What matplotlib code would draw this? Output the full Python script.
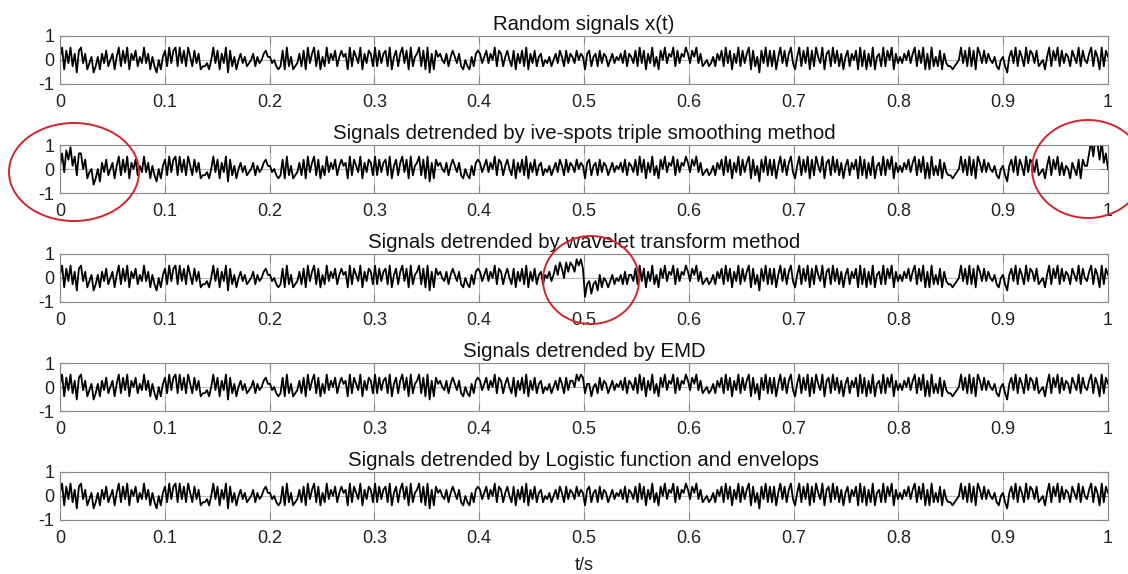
import numpy as np
import matplotlib
matplotlib.use("Agg")
import matplotlib.pyplot as plt
from matplotlib.patches import Ellipse

plt.rcParams['font.family'] = ['Liberation Sans', 'DejaVu Sans']

# Random signal x(t), sampled values in units of 0.13, one row per 0.1 s
x_units = [
    1, 4, -3, 3, -1, 4, -2, 2, -4, 3, 4, -1, 2, -3, -1, 1, -4, -2, 1, -3, 2, -1, 3, -2, 0, 2, -3, 1, 4, -2, 3, -1, 4, -3, 2, 0, 3, -2, 1, -1, 4, -1, 2, -3, 1, -2, -4, 0, -3, 1,
    3, -2, 4, -1, 3, 4, -2, 4, -1, 3, -2, 4, 1, -2, 3, -1, 2, -3, -2, -2, -1, -3, 0, 4, -1, 3, -3, 2, -1, 4, -4, 3, -2, 1, -3, 0, 2, -1, 1, -2, -1, 0, 2, -2, 1, -1, 0, 2, 3, 1,
    1, -1, 0, -2, -3, -2, 3, -3, 4, -2, 1, -3, -2, -1, 2, -2, 3, -3, 4, -1, 2, 4, -2, 3, -3, 1, -2, 4, -1, 2, 0, 3, -2, 1, 3, 1, 2, -3, 4, -2, 3, 1, -1, 4, -3, 2, -1, 3, 2, -2,
    4, -2, 3, -1, 2, 3, -2, 4, -3, 1, 3, -2, 2, 4, -1, 3, -3, 4, -2, 1, 2, 4, -2, 3, -3, 4, -4, 2, -3, 3, 1, 2, 0, -1, 2, -2, 1, 3, 1, -1, 2, -2, -3, 0, -2, -3, 1, -2, 2, 3,
    2, -1, 1, 3, -1, 2, 0, 4, -2, 3, 2, -2, 1, 3, 0, -2, 3, -3, 2, -1, 3, -2, 4, -3, 2, -1, 3, -2, 1, 2, -2, 0, -1, 1, -2, 0, 2, -1, 3, 1, -2, 3, -1, 2, 1, -1, 3, 0, 2, 1,
    -3, 2, 3, -2, 1, 2, -2, 3, -1, 2, 1, -2, 0, 2, -1, 1, 0, 2, -1, 3, -2, 2, 1, -1, 3, -2, 4, -1, 3, -3, 2, -1, 4, -2, 1, -3, 3, 0, 4, -1, 2, 1, 4, -2, 3, -1, 2, 1, 4, 2,
    -1, 3, 1, 4, -1, 2, -2, -1, 0, -2, -1, 1, -2, 2, 0, 3, -2, 4, -1, 3, -3, 2, -1, 4, -2, 3, -1, 2, 4, -3, 3, -2, 1, -4, 3, -1, 4, -2, 3, -2, 3, -3, 1, 4, -1, 3, -2, 2, 4, -1,
    -3, 1, 4, -2, 3, -1, 4, -3, 3, -2, 4, 1, -1, 4, -3, 2, 3, -2, 4, -1, 3, -2, 2, -3, 1, 3, -2, 2, 0, 3, -3, 4, -2, 3, -3, 2, -2, 4, -3, 1, 2, -2, 4, -2, 3, 0, 4, -3, 2, -1,
    1, -1, 2, 0, 3, -1, 2, 4, -2, 3, -1, 4, -3, 2, -3, 4, -2, 1, -2, 3, -3, 2, -1, -2, -2, -3, -2, -1, 0, 4, -1, 3, -2, 4, -2, 3, -3, 4, 2, -1, 3, -1, 2, 0, -1, 1, -2, -3, 0, 1,
    -2, -4, 1, 3, -1, 4, -2, 3, 1, -2, 4, -1, 3, 2, -1, 3, -2, -1, 0, -3, 1, 4, -2, 3, 0, 4, -2, 3, -1, 2, 1, -2, 3, 1, -1, 4, -2, 3, 0, -1, 2, 4, -2, 3, 1, -3, 4, -2, 3, 1,
]
unit = 0.13

# Residual trends left by each detrending method (same units, added from a start sample)
triple_head_start = 0
triple_head = [0, 1, 2, 3, 4, 3, 3, 2, 2, 2, 1, 1, 1, 0, 0, -1, -1, -1, -1, -1]
triple_tail_start = 475
triple_tail = [0, 0, -1, -1, -1, -1, -1, -1, -1, -1, -1, -1, 0, 1, 2, 3, 5, 6, 7, 7, 6, 5, 4, 2, -1]
wavelet_start = 230
wavelet_resid = [0, 1, 1, 1, 1, 1, 2, 2, 2, 2, 2, 2, 3, 3, 3, 3, 3, 4, 4, 2,
                 -3, -4, -4, -3, -3, -3, -2, -2, -2, -2, -2, -1, -1, -1, -1, -1, -1, -1, -1, -1, 0, -1, 0, 0, 0]
emd_start = 243
emd_resid = [0, 1, 1, 1, 2, 2, 2, 1, -1, -2, -1, -1, -1, 0, 0]

titles = [
    "Random signals x(t)",
    "Signals detrended by ive-spots triple smoothing method",
    "Signals detrended by wavelet transform method",
    "Signals detrended by EMD",
    "Signals detrended by Logistic function and envelops",
]
xticks = [0, 0.1, 0.2, 0.3, 0.4, 0.5, 0.6, 0.7, 0.8, 0.9, 1]
xtick_labels = ["0", "0.1", "0.2", "0.3", "0.4", "0.5", "0.6", "0.7", "0.8", "0.9", "1"]
yticks = [-1, 0, 1]


def with_residual(base, pieces):
    sig = np.array(base, dtype=float)
    for start, vals in pieces:
        sig[start:start + len(vals)] += np.array(vals, dtype=float)
    return sig * unit


x = np.array(x_units, dtype=float) * unit
t = np.linspace(0, 1, len(x))
signals = [
    x,
    with_residual(x_units, [(triple_head_start, triple_head), (triple_tail_start, triple_tail)]),
    with_residual(x_units, [(wavelet_start, wavelet_resid)]),
    with_residual(x_units, [(emd_start, emd_resid)]),
    x,
]

W, H = 1128, 574
fig = plt.figure(figsize=(W / 100, H / 100), dpi=100)
left_px, right_px, ax_h = 60, 1108, 48
tops = [36, 145, 254, 363, 472]
frame = '#8a8a8a'

axes = []
for i, (sig, title) in enumerate(zip(signals, titles)):
    ax = fig.add_axes([left_px / W, 1 - (tops[i] + ax_h) / H,
                       (right_px - left_px) / W, ax_h / H])
    ax.plot(t, sig, color='black', lw=1.3)
    ax.set_xlim(0, 1)
    ax.set_ylim(-1, 1)
    ax.set_xticks(xticks)
    ax.set_xticklabels(xtick_labels)
    ax.set_yticks(yticks)
    ax.set_yticklabels([str(v) for v in yticks])
    ax.grid(True, color='#b8b8b8', lw=0.8)
    ax.set_axisbelow(True)
    ax.tick_params(direction='in', length=6, width=0.8, color=frame,
                   labelsize=13, labelcolor='#222222', top=True, right=True)
    ax.tick_params(axis='x', pad=7.5)
    ax.tick_params(axis='y', pad=4)
    for s in ax.spines.values():
        s.set_color(frame)
        s.set_linewidth(0.8)
    ax.set_title(title, fontsize=14.7, pad=4.5, color='#111111')
    axes.append(ax)

axes[-1].set_xlabel("t/s", fontsize=13, labelpad=7, color='#222222')

# Red rings marking the edge and mid-record artefacts
for cx, cy, w, h in [(74, 172, 130, 98), (1088, 169, 112, 98), (591, 280, 96, 88)]:
    fig.add_artist(Ellipse((cx / W, 1 - cy / H), w / W, h / H,
                           transform=fig.transFigure, fill=False,
                           edgecolor='#d0262a', lw=1.4))

fig.savefig("out.png", dpi=100)
